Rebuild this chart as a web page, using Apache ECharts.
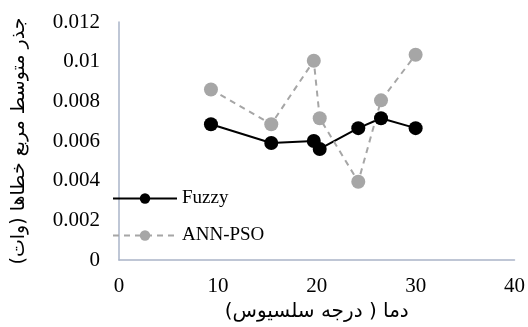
<!DOCTYPE html>
<html>
<head>
<meta charset="utf-8">
<script src="https://cdn.jsdelivr.net/npm/echarts@6/dist/echarts.min.js"></script>
<style>
  html, body { margin: 0; padding: 0; background: #fff; }
</style>
</head>
<body>
<div id="chart" style="width:528px;height:327px;"></div>
<script>
// temperature (x) and RMSE (y)
var fuzzyTemp = [9.3, 15.4, 19.7, 20.3, 24.2, 26.5, 30.0];
var fuzzyRmse = [0.00685, 0.0059, 0.006, 0.0056, 0.00665, 0.00715, 0.00665];
var annTemp = [9.3, 15.4, 19.7, 20.3, 24.2, 26.5, 30.0];
var annRmse = [0.0086, 0.00685, 0.01005, 0.00715, 0.00395, 0.00805, 0.01035];

var xTitle = "دما ( درجه سلسیوس)\u200F";
var yTitle = "جذر متوسط مربع خطاها (وات)\u200F";
var seriesNames = ["Fuzzy", "ANN-PSO"];

function pairs(xs, ys) {
  return xs.map(function (x, i) { return [x, ys[i]]; });
}

var serif = "Liberation Serif";
var axisColor = "#aab4c8";

var myChart = echarts.init(document.getElementById("chart"));
myChart.setOption({
  animation: false,
  grid: { left: 119, right: 13, top: 22, bottom: 65 },
  legend: {
    left: 107,
    top: 184,
    orient: "vertical",
    itemWidth: 64,
    itemHeight: 13,
    itemGap: 18,
    textStyle: { fontFamily: serif, fontSize: 19, color: "#000" },
    data: seriesNames
  },
  xAxis: {
    type: "value",
    min: 0,
    max: 40,
    interval: 10,
    name: xTitle,
    nameLocation: "middle",
    nameGap: 37,
    nameTextStyle: { fontFamily: "DejaVu Sans", fontSize: 20, color: "#000" },
    axisLine: { lineStyle: { color: axisColor, width: 1.5 } },
    axisTick: { show: false },
    splitLine: { show: false },
    axisLabel: { fontFamily: serif, fontSize: 21, color: "#000", margin: 16 }
  },
  yAxis: {
    type: "value",
    min: 0,
    max: 0.012,
    interval: 0.002,
    name: yTitle,
    nameLocation: "middle",
    nameRotate: 90,
    nameGap: 90,
    nameTextStyle: { fontFamily: "DejaVu Sans", fontSize: 19, color: "#000" },
    axisLine: { show: true, lineStyle: { color: axisColor, width: 1.5 } },
    axisTick: { show: false },
    splitLine: { show: false },
    axisLabel: { fontFamily: serif, fontSize: 21, color: "#000", margin: 19 }
  },
  series: [
    {
      name: seriesNames[0],
      type: "line",
      data: pairs(fuzzyTemp, fuzzyRmse),
      symbol: "circle",
      symbolSize: 14,
      itemStyle: { color: "#000" },
      lineStyle: { color: "#000", width: 2 }
    },
    {
      name: seriesNames[1],
      type: "line",
      data: pairs(annTemp, annRmse),
      symbol: "circle",
      symbolSize: 14,
      itemStyle: { color: "#a6a6a6" },
      lineStyle: { color: "#a6a6a6", width: 2, type: [6, 5] }
    }
  ]
});
</script>
</body>
</html>
